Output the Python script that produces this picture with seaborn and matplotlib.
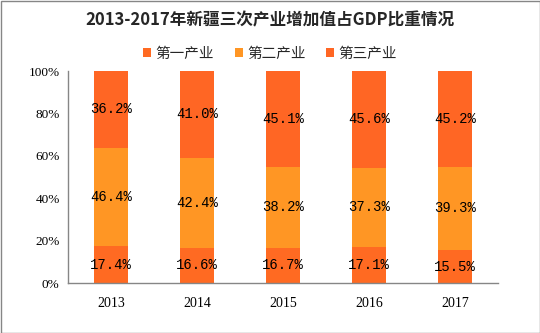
import matplotlib
matplotlib.use("Agg")
import matplotlib.pyplot as plt
import seaborn as sns
import pandas as pd
import numpy as np

years = ["2013", "2014", "2015", "2016", "2017"]
primary = [17.4, 16.6, 16.7, 17.1, 15.5]
secondary = [46.4, 42.4, 38.2, 37.3, 39.3]
tertiary = [36.2, 41.0, 45.1, 45.6, 45.2]
series_names = ["第一产业", "第二产业", "第三产业"]
colors = ["#FF6A22", "#FF9624", "#FF6624"]
yticks = [0, 20, 40, 60, 80, 100]
ytick_labels = ["0%", "20%", "40%", "60%", "80%", "100%"]
title = "2013-2017年新疆三次产业增加值占GDP比重情况"

sns.set_theme(style="white")
plt.rcParams['font.family'] = ['Noto Sans CJK SC', 'DejaVu Sans']

fig = plt.figure(figsize=(5.4, 3.33), dpi=100)
ax = fig.add_axes([68/540, 1 - 283/333, 430/540, 212/333])

df = pd.DataFrame({"year": years, "p": primary, "s": secondary, "t": tertiary})
df["ps"] = df["p"] + df["s"]
df["pst"] = df["ps"] + df["t"]

# draw stacked bars from the top down (each cumulative layer)
sns.barplot(data=df, x="year", y="pst", color=colors[2], width=0.4, ax=ax,
            saturation=1, label=series_names[2], linewidth=0)
sns.barplot(data=df, x="year", y="ps", color=colors[1], width=0.4, ax=ax,
            saturation=1, label=series_names[1], linewidth=0)
sns.barplot(data=df, x="year", y="p", color=colors[0], width=0.4, ax=ax,
            saturation=1, label=series_names[0], linewidth=0)

handles, labels = ax.get_legend_handles_labels()
if ax.get_legend() is not None:
    ax.get_legend().remove()

for i in range(len(years)):
    ax.text(i, primary[i] / 2, f"{primary[i]:.1f}%", ha="center", va="center",
            fontsize=10, family="Liberation Mono", color="black")
    ax.text(i, primary[i] + secondary[i] / 2, f"{secondary[i]:.1f}%", ha="center",
            va="center", fontsize=10, family="Liberation Mono", color="black")
    ax.text(i, primary[i] + secondary[i] + tertiary[i] / 2, f"{tertiary[i]:.1f}%",
            ha="center", va="center", fontsize=10, family="Liberation Mono", color="black")

ax.set_ylim(0, 100)
ax.set_xlim(-0.5, len(years) - 0.5)
ax.set_yticks(yticks)
ax.set_yticklabels(ytick_labels, fontsize=9.5, family="Liberation Serif")
ax.set_xticks(range(len(years)))
ax.set_xticklabels(years, fontsize=10, family="Liberation Serif")
ax.set_xlabel("")
ax.set_ylabel("")
for sp in ["top", "right"]:
    ax.spines[sp].set_visible(False)
for sp in ["left", "bottom"]:
    ax.spines[sp].set_color("#868686")
    ax.spines[sp].set_linewidth(1)
ax.tick_params(axis="y", length=0, pad=6, colors="black")
ax.tick_params(axis="x", length=0, pad=10, colors="black")
# minor ticks at category boundaries
ax.set_xticks(np.arange(-0.5, len(years), 1), minor=True)
ax.tick_params(axis="x", which="minor", length=5, color="#868686", direction="out", width=1)

# legend
order = [labels.index(n) for n in series_names]
leg = fig.legend([handles[k] for k in order], [labels[k] for k in order],
                 loc="center", bbox_to_anchor=(0.5, 1 - 54/333), ncol=3, frameon=False,
                 fontsize=10.5, handlelength=0.55, handleheight=0.55, handletextpad=0.3,
                 columnspacing=1.4)

fig.text(0.5, 1 - 20/333, title, ha="center", va="center", fontsize=12,
         fontweight="bold", family=['Noto Sans CJK SC', 'DejaVu Sans'])

# figure border
fig.patches.append(plt.Rectangle((0.5/540, 0.5/333), 1 - 1/540, 1 - 1/333,
                                 transform=fig.transFigure, fill=False,
                                 edgecolor="#868686", linewidth=1))

fig.savefig("out.png", dpi=100)
